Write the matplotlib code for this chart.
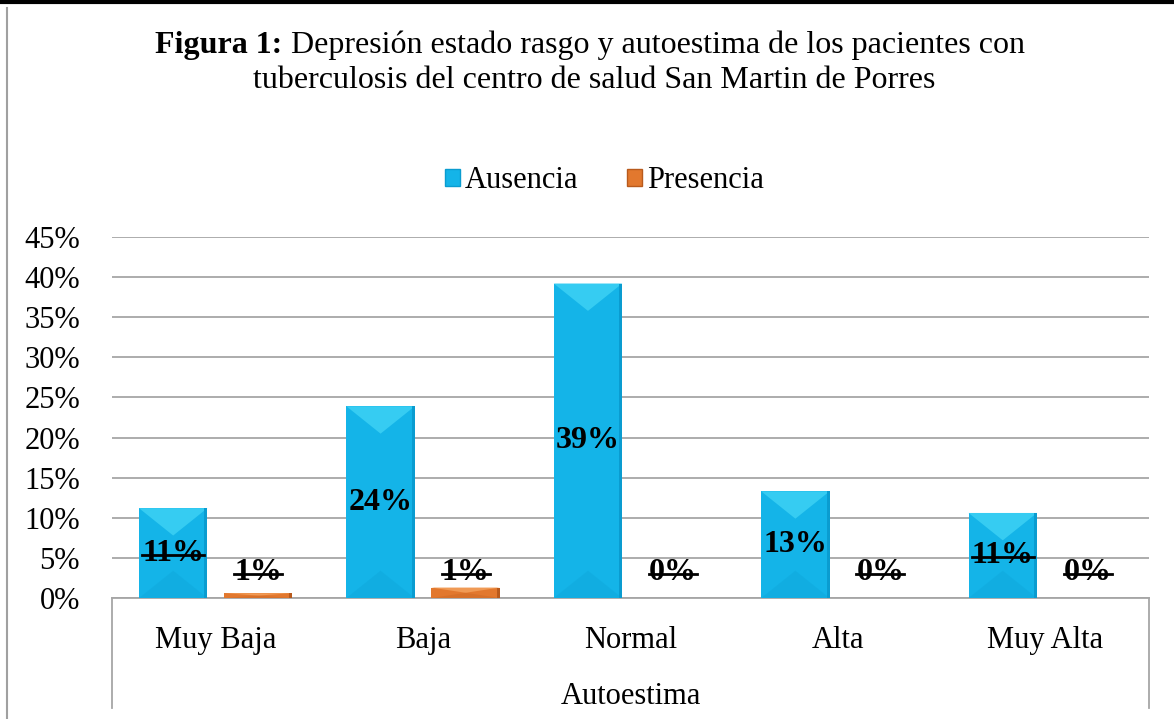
import matplotlib
matplotlib.use('Agg')
import matplotlib.pyplot as plt
import numpy as np
from matplotlib.lines import Line2D
from matplotlib.patches import Polygon, Patch

plt.rcParams['font.family'] = ['Liberation Serif', 'DejaVu Serif']

#####################################################################
categories = ['Muy Baja', 'Baja', 'Normal', 'Alta', 'Muy Alta']
series_names = ['Ausencia', 'Presencia']
ausencia = [0.112, 0.239, 0.392, 0.133, 0.106]
presencia = [0.006, 0.013, 0.0, 0.0, 0.0]
ausencia_labels = ['11%', '24%', '39%', '13%', '11%']
presencia_labels = ['1%', '1%', '0%', '0%', '0%']
ausencia_strike = [True, False, False, False, True]
presencia_strike = [True, True, True, True, True]
yticks = [0, 0.05, 0.10, 0.15, 0.20, 0.25, 0.30, 0.35, 0.40, 0.45]
ytick_labels = ['0%', '5%', '10%', '15%', '20%', '25%', '30%', '35%', '40%', '45%']

title_bold = 'Figura 1:'
title_rest = ' Depresión estado rasgo y autoestima de los pacientes con'
title_line2 = 'tuberculosis del centro de salud San Martin de Porres'
x_title = 'Autoestima'

blue = '#14B4E8'
blue_light = '#36CCF2'
blue_dark = '#0A9CD0'
orange = '#E2782E'
orange_light = '#F09A55'
orange_dark = '#B85A1C'
fontsize = 23
ticksize = 22

#####################################################################
W, H = 1174, 719
fig = plt.figure(figsize=(W / 100, H / 100), dpi=100)
ax = fig.add_axes([112 / W, 1 - 598 / H, (1149 - 112) / W, (598 - 237) / H])

x = np.arange(len(categories))
bw = 0.33
off = 0.205
bars_a = ax.bar(x - off, ausencia, bw, color=blue, zorder=3)
bars_p = ax.bar(x + off, presencia, bw, color=orange, zorder=3)

ax.set_xlim(-0.5, len(categories) - 0.5)
ax.set_ylim(0, 0.45)
ax.set_yticks(yticks)
ax.set_yticklabels(ytick_labels, fontsize=ticksize)
ax.tick_params(axis='y', length=0, pad=23)
ax.set_xticks(x)
ax.set_xticklabels(categories, fontsize=ticksize)
ax.tick_params(axis='x', length=0, pad=20)
ax.grid(axis='y', color='#A6A6A6', linewidth=1.3, zorder=0)
for s in ['top', 'right', 'left']:
    ax.spines[s].set_visible(False)
ax.spines['bottom'].set_color('#A6A6A6')
ax.spines['bottom'].set_linewidth(1.3)

# multi-level category box
tr = ax.get_xaxis_transform()
for xx in [-0.5, len(categories) - 0.5]:
    ax.plot([xx, xx], [0, -0.305], transform=tr, color='#A6A6A6', lw=1.3, clip_on=False)
ax.text((len(categories) - 1) / 2, -0.272, x_title, transform=tr, ha='center', va='center',
        fontsize=ticksize)

# bevel facets on the bars
fig.canvas.draw()
inv = ax.transData.inverted()
def bevel(bars, light, dark):
    for b in bars:
        if b.get_height() <= 0:
            continue
        x0, y0 = b.get_x(), b.get_y()
        x1, y1 = x0 + b.get_width(), y0 + b.get_height()
        (px0, py0), (px1, py1) = ax.transData.transform([(x0, y0), (x1, y1)])
        d = min((px1 - px0) * 0.4, (py1 - py0) / 2)
        cx = (px0 + px1) / 2
        top = inv.transform([(px0, py1), (px1, py1), (cx, py1 - d)])
        bot = inv.transform([(px0, py0), (px1, py0), (cx, py0 + d)])
        ax.add_patch(Polygon(top, closed=True, color=light, zorder=4, lw=0))
        ax.add_patch(Polygon(bot, closed=True, color=dark, zorder=4, lw=0, alpha=0.25))
        edge = inv.transform([(px1 - 3, py0), (px1, py0), (px1, py1), (px1 - 3, py1)])
        ax.add_patch(Polygon(edge, closed=True, color=dark, zorder=4, lw=0))
bevel(bars_a, blue_light, blue_dark)
bevel(bars_p, orange_light, orange_dark)

# data labels
texts = []
for b, lab, st in zip(bars_a, ausencia_labels, ausencia_strike):
    t = ax.text(b.get_x() + b.get_width() / 2, b.get_height() / 2, lab, ha='center', va='center',
                fontsize=fontsize, fontweight='bold', zorder=6)
    texts.append((t, st))
for b, lab, st in zip(bars_p, presencia_labels, presencia_strike):
    t = ax.annotate(lab, (b.get_x() + b.get_width() / 2, 0), xytext=(0, 25), textcoords='offset pixels',
                    ha='center', va='center', fontsize=fontsize, fontweight='bold', zorder=6)
    texts.append((t, st))

fig.canvas.draw()
r = fig.canvas.get_renderer()
for t, st in texts:
    if not st:
        continue
    bb = t.get_window_extent(r)
    ym = bb.y0 + bb.height * 0.45
    fig.add_artist(Line2D([bb.x0 / W, bb.x1 / W], [ym / H, ym / H], color='black', lw=2, zorder=7))

# legend
handles = [Patch(facecolor=blue, edgecolor=blue_dark), Patch(facecolor=orange, edgecolor=orange_dark)]
fig.legend(handles, series_names, loc='center', bbox_to_anchor=(604 / W, 1 - 181 / H), ncol=2,
           frameon=False, fontsize=ticksize, handlelength=0.5, handleheight=0.5,
           handletextpad=0.15, columnspacing=1.6)

# title with bold prefix
t1 = fig.text(0, 0, title_bold, fontsize=fontsize, fontweight='bold')
t2 = fig.text(0, 0, title_rest, fontsize=fontsize)
fig.canvas.draw()
w1 = t1.get_window_extent(r).width
w2 = t2.get_window_extent(r).width
x0 = 590 - (w1 + w2) / 2
t1.set_position((x0 / W, 1 - 45 / H))
t1.set_va('center')
t2.set_position(((x0 + w1) / W, 1 - 45 / H))
t2.set_va('center')
fig.text(594 / W, 1 - 80 / H, title_line2, fontsize=fontsize, ha='center', va='center')

# page frame
fig.add_artist(Line2D([0, 1], [1 - 2 / H, 1 - 2 / H], color='black', lw=3))
fig.add_artist(Line2D([7 / W, 7 / W], [0, 1 - 8 / H], color='#A0A0A0', lw=1.5))

plt.savefig('out.png', dpi=100)
plt.close()
